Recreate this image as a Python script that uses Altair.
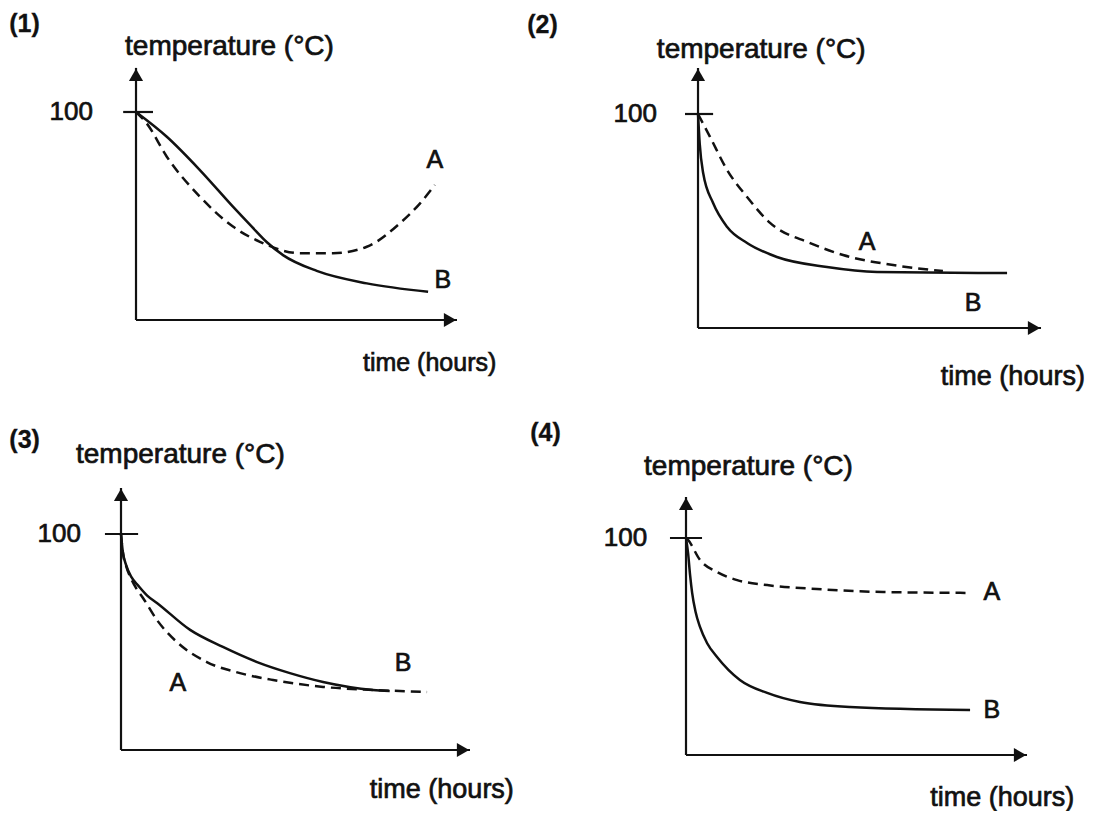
import altair as alt
import pandas as pd

# ---------------- data (time in arbitrary hours, temperature in °C) -------------
# Panel (1)
p1_A_t = [0, 0.33, 0.96, 1.99, 3.02, 3.86, 5.11, 6.14, 7.19, 8.22, 8.85, 9.31]
p1_A_T = [100, 94.6, 78.5, 59.3, 44.9, 37.6, 32.1, 32.1, 35.2, 46.5, 56.1, 64.9]
p1_B_t = [0, 0.96, 1.99, 3.02, 3.60, 4.07, 4.58, 5.63, 7.19, 9.10]
p1_B_T = [100, 88.1, 72.1, 54.5, 45.0, 37.5, 31.2, 23.6, 17.6, 13.6]

# Panel (2)
p2_A_t = [0, 0.35, 0.85, 1.43, 2.10, 3.27, 4.23, 5.69, 7.14]
p2_A_T = [100, 89.3, 73.8, 61.2, 49.1, 39.7, 34.1, 29.4, 26.6]
p2_B_t = [0, 0.05, 0.15, 0.44, 0.85, 1.43, 2.30, 3.76, 5.22, 9.01]
p2_B_T = [100, 86.0, 72.4, 58.4, 47.2, 39.7, 33.2, 28.5, 26.2, 25.7]

# Panel (3)
p3_A_t = [0, 0.05, 0.15, 0.30, 0.45, 0.63, 1.03, 1.60, 2.46, 3.41, 4.36, 5.79, 7.22, 8.77]
p3_A_T = [100, 91.8, 85.0, 79.0, 74.5, 70.4, 60.2, 50.0, 40.7, 35.6, 32.4, 29.2, 27.8, 26.9]
p3_B_t = [0, 0.05, 0.15, 0.30, 0.50, 0.75, 1.03, 1.98, 2.92, 3.90, 4.84, 5.79, 7.22, 7.70]
p3_B_T = [100, 92.0, 85.5, 80.0, 76.0, 71.5, 68.1, 55.6, 47.7, 40.7, 35.6, 31.5, 27.8, 27.3]

# Panel (4)
p4_A_t = [0, 0.06, 0.41, 0.91, 1.50, 2.38, 3.84, 5.78, 8.33]
p4_A_T = [100, 99.1, 89.9, 84.3, 80.6, 78.3, 76.5, 75.1, 74.7]
p4_B_t = [0, 0.06, 0.12, 0.18, 0.28, 0.41, 0.62, 0.91, 1.58, 2.38, 3.34, 4.81, 8.33]
p4_B_T = [100, 93.1, 82.9, 74.7, 66.0, 59.0, 51.5, 45.2, 34.6, 28.6, 24.4, 22.1, 20.7]

panel_labels = ["(1)", "(2)", "(3)", "(4)"]
y_title = "temperature (°C)"
x_title = "time (hours)"
tick_label = "100"
tick_value = 100

# ---------------- layout (positions in each panel's own units) -----------------
layouts = [
    dict(w=518, h=397, xdom=[-3.988, 12.150], ydom=[-40.87, 150.0], top=121.2, tip=10,
         lab100=-1.34, tick=(-0.40, 0.53), temp=(-0.34, 131.3), time=(7.07, -20.7),
         num=(-3.95, 142.3), A=(9.31, 76.9), B=(9.56, 19.2), tsize=25),
    dict(w=570, h=397, xdom=[-5.015, 11.603], ydom=[-35.98, 149.53], top=121.5, tip=10,
         lab100=-1.20, tick=(-0.38, 0.44), temp=(-1.20, 129.9), time=(7.08, -22.9),
         num=(-4.98, 141.6), A=(4.93, 40.2), B=(8.02, 11.7), tsize=27),
    dict(w=518, h=401, xdom=[-3.238, 11.605], ydom=[-25.93, 159.72], top=121.3, tip=10,
         lab100=-1.15, tick=(-0.46, 0.49), temp=(-1.29, 136.6), time=(7.13, -18.5),
         num=(-3.2, 143.5), A=(1.63, 31.0), B=(8.08, 40.3), tsize=27),
    dict(w=570, h=401, xdom=[-4.692, 12.023], ydom=[-23.50, 161.29], top=118.9, tip=10,
         lab100=-1.14, tick=(-0.47, 0.47), temp=(-1.23, 132.7), time=(7.16, -19.8),
         num=(-4.57, 148.4), A=(8.97, 75.1), B=(8.97, 20.7), tsize=27),
]

series = [
    (p1_A_t, p1_A_T, p1_B_t, p1_B_T),
    (p2_A_t, p2_A_T, p2_B_t, p2_B_T),
    (p3_A_t, p3_A_T, p3_B_t, p3_B_T),
    (p4_A_t, p4_A_T, p4_B_t, p4_B_T),
]

INK = "#111111"
FONT = "Liberation Sans"


def panel(i):
    L = layouts[i]
    a_t, a_T, b_t, b_T = series[i]
    xs = alt.Scale(domain=L["xdom"], nice=False, zero=False)
    ys = alt.Scale(domain=L["ydom"], nice=False, zero=False)
    X = lambda f: alt.X(f, type="quantitative", scale=xs, axis=None)
    Y = lambda f: alt.Y(f, type="quantitative", scale=ys, axis=None)

    dfA = pd.DataFrame({"t": a_t, "T": a_T})
    dfB = pd.DataFrame({"t": b_t, "T": b_T})

    lineA = alt.Chart(dfA).mark_line(
        color=INK, strokeWidth=2.5, strokeDash=[10, 6], interpolate="monotone"
    ).encode(x=X("t"), y=Y("T"))
    lineB = alt.Chart(dfB).mark_line(
        color=INK, strokeWidth=2.5, interpolate="monotone"
    ).encode(x=X("t"), y=Y("T"))

    yaxis = alt.Chart(pd.DataFrame({"t": [0], "T": [0], "T2": [L["top"]]})).mark_rule(
        color=INK, strokeWidth=2.2
    ).encode(x=X("t"), y=Y("T"), y2="T2")
    xaxis = alt.Chart(pd.DataFrame({"t": [0], "t2": [L["tip"]], "T": [0]})).mark_rule(
        color=INK, strokeWidth=2.2
    ).encode(x=X("t"), x2="t2", y=Y("T"))
    tick = alt.Chart(pd.DataFrame({"t": [L["tick"][0]], "t2": [L["tick"][1]], "T": [tick_value]})).mark_rule(
        color=INK, strokeWidth=2.2
    ).encode(x=X("t"), x2="t2", y=Y("T"))

    head_up = alt.Chart(pd.DataFrame({"t": [0], "T": [L["top"]]})).mark_point(
        shape="triangle-up", filled=True, color=INK, opacity=1, size=200, yOffset=7
    ).encode(x=X("t"), y=Y("T"))
    head_right = alt.Chart(pd.DataFrame({"t": [L["tip"]], "T": [0]})).mark_point(
        shape="triangle-right", filled=True, color=INK, opacity=1, size=200, xOffset=-7
    ).encode(x=X("t"), y=Y("T"))

    def txt(x, y, s, size, align="left", weight="normal", sw=0.7):
        return alt.Chart(pd.DataFrame({"t": [x], "T": [y], "s": [s]})).mark_text(
            font=FONT, fontSize=size, color=INK, align=align, baseline="middle",
            fontWeight=weight, stroke=INK, strokeWidth=sw
        ).encode(x=X("t"), y=Y("T"), text="s:N")

    texts = [
        txt(L["lab100"], tick_value, tick_label, 26, align="right"),
        txt(L["temp"][0], L["temp"][1], y_title, 28),
        txt(L["time"][0], L["time"][1], x_title, L["tsize"]),
        txt(L["num"][0], L["num"][1], panel_labels[i], 25, weight="bold", sw=0.3),
        txt(L["A"][0], L["A"][1], "A", 25, align="center"),
        txt(L["B"][0], L["B"][1], "B", 25, align="center"),
    ]

    return alt.layer(yaxis, xaxis, tick, head_up, head_right, lineB, lineA, *texts).properties(
        width=L["w"], height=L["h"]
    )


chart = alt.concat(
    panel(0), panel(1), panel(2), panel(3), columns=2, spacing=0, bounds="flush"
).properties(padding=0, background="white").configure_view(stroke=None)

chart.save("out.html", embed_options={"renderer": "svg", "actions": False})
